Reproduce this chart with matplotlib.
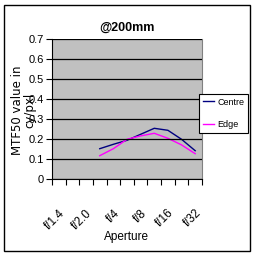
import numpy as np
import matplotlib
matplotlib.use("Agg")
import matplotlib.pyplot as plt
from matplotlib.patches import Rectangle

plt.rcParams['font.family'] = ['Liberation Sans', 'DejaVu Sans']

categories = ['f/1.4', 'f/1.8', 'f/2.0', 'f/2.8', 'f/4', 'f/5.6', 'f/8', 'f/11', 'f/16', 'f/22', 'f/32']
centre = [np.nan, np.nan, np.nan, 0.153, 0.175, 0.195, 0.225, 0.255, 0.245, 0.200, 0.143]
edge = [np.nan, np.nan, np.nan, 0.118, 0.153, 0.200, 0.217, 0.230, 0.205, 0.172, 0.128]
yticks = [0, 0.1, 0.2, 0.3, 0.4, 0.5, 0.6, 0.7]

fig = plt.figure(figsize=(2.56, 2.56), dpi=100)
fig.patches.append(Rectangle((4/256, 5/256), 246/256, 246/256, transform=fig.transFigure,
                             fill=False, edgecolor='black', linewidth=1.0))
ax = fig.add_axes([52/256, 1-179.3/256, 150/256, 140/256])
ax.set_facecolor('#C0C0C0')
x = np.arange(len(categories))
ax.plot(x, centre, color='#000080', lw=1.0, label='Centre')
ax.plot(x, edge, color='#FF00FF', lw=1.0, label='Edge')
ax.set_xlim(-0.5, len(categories) - 0.5)
ax.set_ylim(0, 0.7)
ax.set_yticks(yticks)
ax.set_yticklabels(['0' if v == 0 else f'{v:.1f}' for v in yticks], fontsize=8)
ax.yaxis.grid(True, color='black', lw=0.9)
ax.set_axisbelow(False)
ax.set_xticks(np.arange(-0.5, len(categories)), minor=False)
ax.set_xticklabels([])
ax.set_xticks(x[::2], minor=True)
ax.set_xticklabels(categories[::2], minor=True, rotation=45, ha='right', va='top',
                   rotation_mode='anchor', fontsize=8.5)
ax.tick_params(axis='x', which='minor', length=0, pad=20)
ax.tick_params(axis='x', which='major', length=4, width=0.8, direction='out')
ax.tick_params(axis='y', length=4, width=0.8, direction='out', pad=2)
ax.spines['right'].set_color('#808080')
ax.spines['top'].set_visible(False)
ax.set_title('@200mm', fontsize=9, fontweight='bold', pad=6)
fig.text(126/256, 1-237/256, 'Aperture', ha='center', va='center', fontsize=8.5)
fig.text(24/256, 1-110/256, 'MTF50 value in\ncy/pxl', rotation=90, ha='center', va='center',
         fontsize=8.5, family=['DejaVu Sans'], linespacing=0.9)
leg = ax.legend(loc='upper left', bbox_to_anchor=(199/256, 1-94/256), bbox_transform=fig.transFigure,
                fontsize=6.5, frameon=True, fancybox=False, edgecolor='black', framealpha=1,
                handlelength=1.3, borderpad=0.4, labelspacing=1.5, handletextpad=0.3,
                borderaxespad=0)
leg.get_frame().set_linewidth(0.8)
fig.savefig('out.png', dpi=100)
